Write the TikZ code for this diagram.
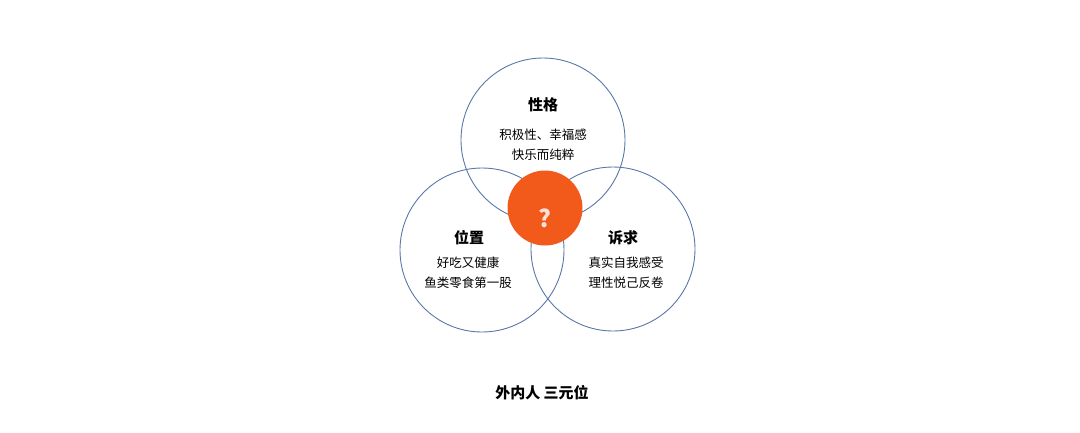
\documentclass[tikz,border=0pt]{standalone}
\usepackage{fontspec}
\newfontfamily\cjk{Noto Sans CJK SC}
\usetikzlibrary{positioning}
\definecolor{ringblue}{HTML}{5A78A8}
\definecolor{hotorange}{HTML}{F15A1B}
\tikzset{
    %Define style for the three rings
    ring/.style={
           circle,
           draw=ringblue, line width=0.9pt,
           minimum size=164pt,
           inner sep=0pt},
    %Define style for the centre dot
    core/.style={
           circle,
           fill=hotorange,
           minimum size=75pt,
           inner sep=0pt},
    % Define text styles
    title/.style={
           font=\cjk\bfseries\fontsize{15}{15}\selectfont,
           inner sep=0pt},
    body/.style={
           font=\cjk\fontsize{12.5}{12.5}\selectfont,
           inner sep=0pt}
}
\begin{document}
\begin{tikzpicture}[x=1pt, y=-1pt, node distance=8pt]
    \useasboundingbox (0,0) rectangle (1080,432);
 %rings
    \node[ring] (top) at (543,140) {};
    \node[ring] (left) at (482,250) {};
    \node[ring] (right) at (613,249) {};
    \node[core] (mid) at (545,208) {};
    \node[font=\cjk\bfseries\fontsize{24}{24}\selectfont, text=white!82!hotorange, inner sep=0pt] (ask) at (545,218) {?};
 %texts
    \node[title] (xg) at (543,105) {性格};
    \node[body] (xg1) at (543,135) {积极性、幸福感};
    \node[body, below=of xg1] (xg2) {快乐而纯粹};
    \node[title] (wz) at (469,238) {位置};
    \node[body] (wz1) at (468,263) {好吃又健康};
    \node[body, below=of wz1] (wz2) {鱼类零食第一股};
    \node[title] (sq) at (623,238) {诉求};
    \node[body] (sq1) at (626,263) {真实自我感受};
    \node[body, below=of sq1] (sq2) {理性悦己反卷};
    \node[title] (caption) at (542,393) {外内人 三元位};
\end{tikzpicture}
\end{document}
